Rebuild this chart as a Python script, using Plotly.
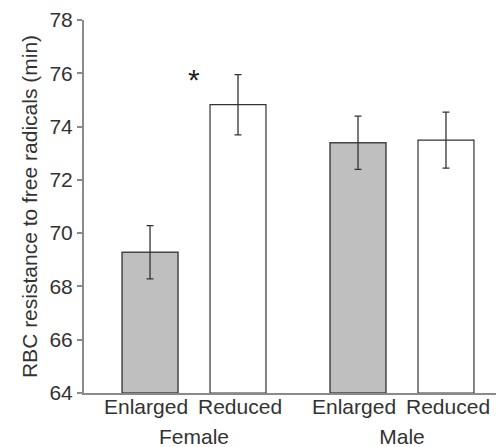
import plotly.graph_objects as go

groups = ["Female", "Male"]
treatments = ["Enlarged", "Reduced"]
enlarged_vals = [69.28, 73.39]
enlarged_err = [1.0, 1.0]
reduced_vals = [74.82, 73.49]
reduced_err = [1.13, 1.05]
y_ticks = [64, 66, 68, 70, 72, 74, 76, 78]
sig_label = "*"
sig_y = 75.75

FONT = "Liberation Sans, Arial, sans-serif"
TXT = "#333333"
AXC = "#8a8a8a"
FS = 21

BARGAP = 0.154
BARGROUPGAP = 0.364
LABEL_SHIFT = [-4, 2]

fig = go.Figure()
fig.add_trace(go.Bar(
    x=groups, y=[v - 64 for v in enlarged_vals], base=64, name="Enlarged",
    marker=dict(color="#bfbfbf", line=dict(color="#454545", width=1.5)),
    error_y=dict(type="data", array=enlarged_err, color="#333333", thickness=1.3, width=3.5),
))
fig.add_trace(go.Bar(
    x=groups, y=[v - 64 for v in reduced_vals], base=64, name="Reduced",
    marker=dict(color="#ffffff", line=dict(color="#333333", width=1.2)),
    error_y=dict(type="data", array=reduced_err, color="#333333", thickness=1.3, width=3.5),
))

slot = (1 - BARGAP) / len(treatments)
annotations = []
for gi, g in enumerate(groups):
    for ti, t in enumerate(treatments):
        xpos = gi - (1 - BARGAP) / 2 + slot * (ti + 0.5)
        annotations.append(dict(
            x=xpos, y=0, xref="x", yref="paper", text=t, showarrow=False,
            yanchor="top", yshift=0, xshift=LABEL_SHIFT[ti],
            font=dict(family=FONT, size=FS, color=TXT),
        ))
annotations.append(dict(
    x=0, y=sig_y, xref="x", yref="y", text=sig_label, showarrow=False,
    font=dict(family=FONT, size=30, color="#222222"),
))

fig.update_layout(
    width=496, height=447,
    margin=dict(l=84, r=0, t=20, b=54),
    paper_bgcolor="white", plot_bgcolor="white",
    barmode="group", bargap=BARGAP, bargroupgap=BARGROUPGAP,
    showlegend=False,
    annotations=annotations,
    font=dict(family=FONT, size=FS, color=TXT),
)
fig.update_xaxes(
    type="category", range=[-0.529, 1.452], automargin=False,
    showline=True, linecolor=AXC, linewidth=2,
    ticks="", showgrid=False, zeroline=False,
    ticklabelstandoff=24,
    tickfont=dict(family=FONT, size=FS, color=TXT),
)
fig.update_yaxes(
    range=[64, 78], tickvals=y_ticks, automargin=False,
    showline=True, linecolor=AXC, linewidth=2,
    ticks="outside", ticklen=5, tickcolor=AXC, tickwidth=2,
    showgrid=False, zeroline=False,
    tickfont=dict(family=FONT, size=FS, color=TXT),
    title=dict(text="RBC resistance to free radicals (min)", standoff=6,
               font=dict(family=FONT, size=FS, color=TXT)),
)

fig.write_html("out.html")
